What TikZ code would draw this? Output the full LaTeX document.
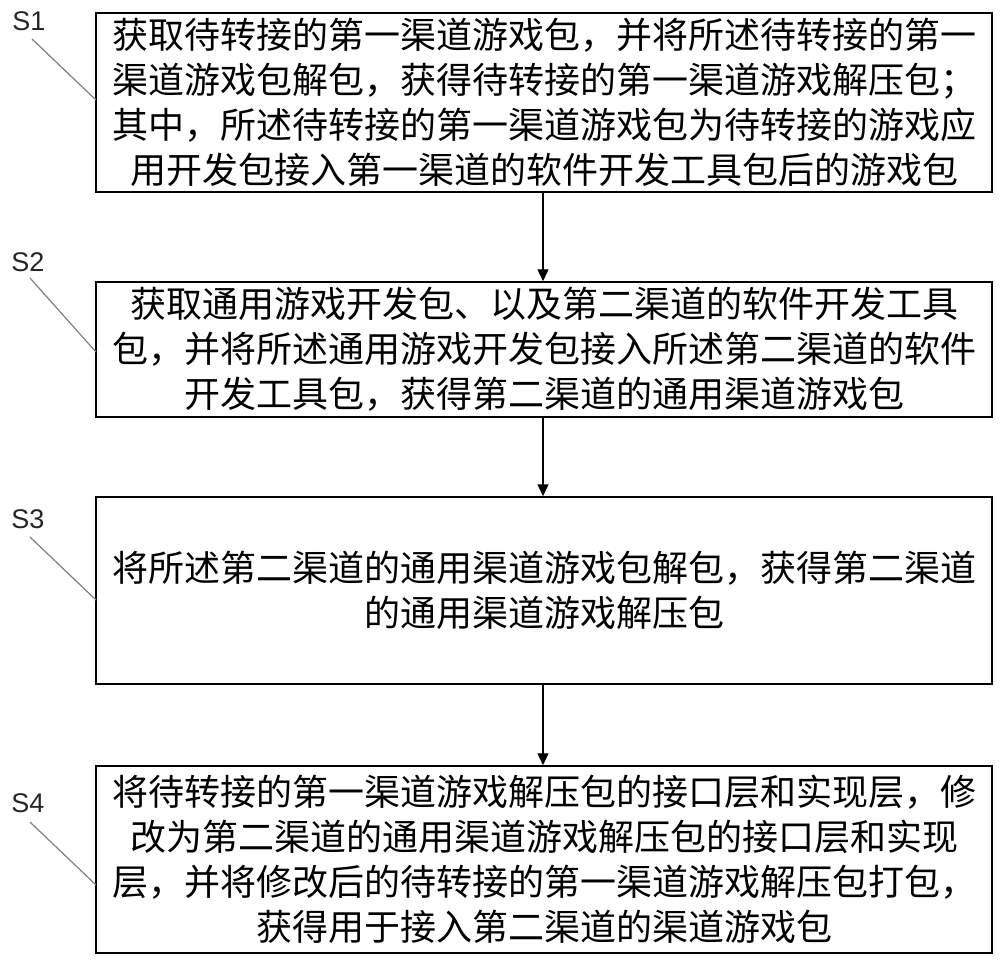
\documentclass[tikz,border=0pt]{standalone}
\usepackage{fontspec}
\setmainfont{Liberation Sans}
\newfontfamily\cjk{Noto Sans CJK SC}
\usetikzlibrary{arrows.meta}
\begin{document}
\begin{tikzpicture}[x=1pt,y=-1pt,
  stepbox/.style={draw=black, line width=1.5pt, minimum width=896pt, inner sep=0pt, align=center,
    font=\cjk\fontsize{36pt}{45pt}\selectfont},
  steplabel/.style={font=\fontsize{27pt}{30pt}\selectfont, inner sep=0pt, text=black!85},
  leader/.style={draw=black!50, line width=1.2pt},
  flow/.style={draw=black, line width=1.3pt, -{Triangle[length=12pt,width=11pt]}}]
\useasboundingbox[fill=white] (0,0) rectangle (1000,959);

\node[stepbox, minimum height=179pt] (s1) at (544,102.5)
 {获取待转接的第一渠道游戏包，并将所述待转接的第一\\
  渠道游戏包解包，获得待转接的第一渠道游戏解压包；\\
  其中，所述待转接的第一渠道游戏包为待转接的游戏应\\
  用开发包接入第一渠道的软件开发工具包后的游戏包};
\node[stepbox, minimum height=135pt] (s2) at (544,349.5)
 {获取通用游戏开发包、以及第二渠道的软件开发工具\\
  包，并将所述通用游戏开发包接入所述第二渠道的软件\\
  开发工具包，获得第二渠道的通用渠道游戏包};
\node[stepbox, minimum height=187pt] (s3) at (544,590.5)
 {将所述第二渠道的通用渠道游戏包解包，获得第二渠道\\
  的通用渠道游戏解压包};
\node[stepbox, minimum height=187pt] (s4) at (544,859.5)
 {将待转接的第一渠道游戏解压包的接口层和实现层，修\\
  改为第二渠道的通用渠道游戏解压包的接口层和实现\\
  层，并将修改后的待转接的第一渠道游戏解压包打包，\\
  获得用于接入第二渠道的渠道游戏包};

\node[steplabel] (l1) at (29,21) {S1};
\node[steplabel] (l2) at (28,262) {S2};
\node[steplabel] (l3) at (28,519) {S3};
\node[steplabel] (l4) at (28,803) {S4};

\coordinate (a1) at (32,39);  \coordinate (e1) at (96,100);
\coordinate (a2) at (30,278); \coordinate (e2) at (96,352);
\coordinate (a3) at (30,537); \coordinate (e3) at (96,600);
\coordinate (a4) at (30,822); \coordinate (e4) at (96,885);
\draw[leader] (a1) -- (e1);
\draw[leader] (a2) -- (e2);
\draw[leader] (a3) -- (e3);
\draw[leader] (a4) -- (e4);

\draw[flow] ([xshift=-1pt]s1.south) -- ([xshift=-1pt]s2.north);
\draw[flow] ([xshift=-1pt]s2.south) -- ([xshift=-1pt]s3.north);
\draw[flow] ([xshift=-1pt]s3.south) -- ([xshift=-1pt]s4.north);
\end{tikzpicture}
\end{document}
